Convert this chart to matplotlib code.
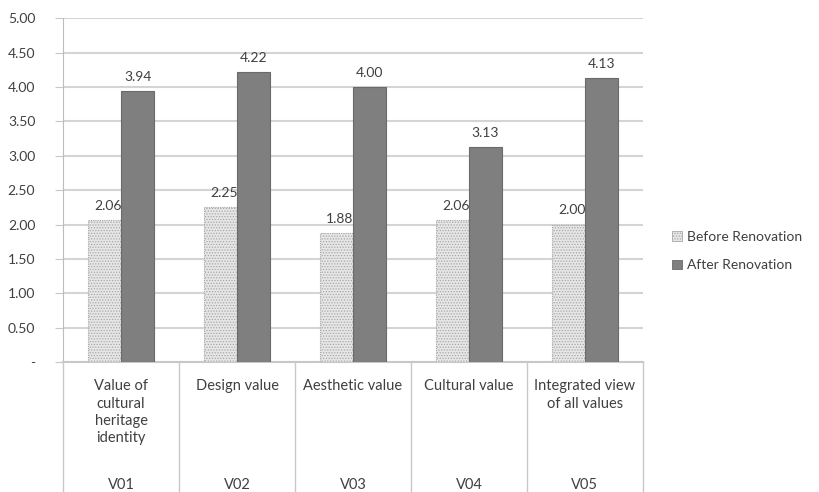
import numpy as np
import matplotlib.pyplot as plt
from matplotlib.patches import Patch

plt.rcParams['font.family'] = ['Lato', 'DejaVu Sans']
plt.rcParams['hatch.linewidth'] = 0.6

categories = ["Value of\ncultural\nheritage\nidentity", "Design value", "Aesthetic value",
              "Cultural value", "Integrated view\nof all values"]
codes = ["V01", "V02", "V03", "V04", "V05"]
before = [2.06, 2.25, 1.88, 2.06, 2.00]
after = [3.94, 4.22, 4.00, 3.13, 4.13]

txt = "#404040"
fig = plt.figure(figsize=(8.19, 4.92), dpi=100)
ax = fig.add_axes([0.077, 0.264, 0.708, 0.699])

x = np.arange(len(categories)) + 0.5
w = 0.285
ax.bar(x - w / 2, before, w, facecolor="#e6e6e6", edgecolor="#a8a8a8", hatch="......",
       linewidth=0.8, linestyle=(0, (1, 1)), zorder=3)
ax.bar(x + w / 2, after, w, facecolor="#7f7f7f", edgecolor="#6a6a6a", linewidth=0.8, zorder=3)

for xi, v in zip(x - w / 2, before):
    ax.text(xi + 0.03, v + 0.12, f"{v:.2f}", ha="center", va="bottom", fontsize=10, color=txt)
for xi, v in zip(x + w / 2, after):
    ax.text(xi, v + 0.12, f"{v:.2f}", ha="center", va="bottom", fontsize=10, color=txt)

ax.set_xlim(0, len(categories))
ax.set_ylim(0, 5)
yt = np.arange(0, 5.01, 0.5)
ax.set_yticks(yt)
ax.set_yticklabels(["-" if t == 0 else f"{t:.2f}" for t in yt], fontsize=10, color=txt)
ax.tick_params(axis="y", length=6, color="#c8c8c8", pad=14)
ax.set_xticks([])
ax.grid(axis="y", color="#d4d4d4", linewidth=1.5, zorder=0)
for s in ["top", "right"]:
    ax.spines[s].set_visible(False)
ax.spines["left"].set_color("#bdbdbd")
ax.spines["bottom"].set_color("#c8c8c8")
ax.spines["bottom"].set_linewidth(1.5)

# multi-level category axis
for b in range(len(categories) + 1):
    ax.plot([b, b], [0, -2], color="#c8c8c8", linewidth=1, clip_on=False, zorder=1)
for xi, c, code in zip(x, categories, codes):
    ax.text(xi, -0.25, c, ha="center", va="top", fontsize=10.5, color=txt, linespacing=1.3)
    ax.text(xi, -1.68, code, ha="center", va="top", fontsize=10.5, color=txt)

handles = [Patch(facecolor="#e6e6e6", edgecolor="#a8a8a8", hatch="......", linewidth=0.6),
           Patch(facecolor="#7f7f7f", edgecolor="#6a6a6a", linewidth=0.6)]
fig.legend(handles, ["Before Renovation", "After Renovation"], loc="center left",
           bbox_to_anchor=(0.812, 0.49), frameon=False, fontsize=10, labelcolor=txt,
           handlelength=0.7, handleheight=0.7, handletextpad=0.4, labelspacing=1.2,
           borderpad=0)

fig.savefig("out.png", dpi=100)
